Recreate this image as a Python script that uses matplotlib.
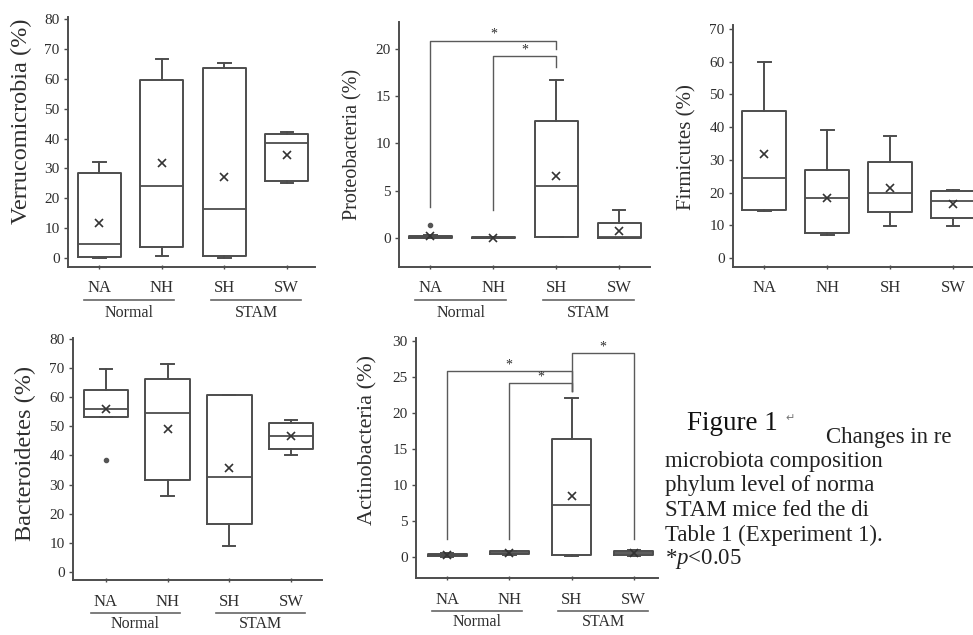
import matplotlib
matplotlib.use("Agg")
import matplotlib.pyplot as plt
from matplotlib.transforms import blended_transform_factory, ScaledTranslation

plt.rcParams['font.family'] = ['Liberation Serif', 'DejaVu Sans']
plt.rcParams['mathtext.fontset'] = 'custom'
plt.rcParams['mathtext.rm'] = 'Liberation Serif'
plt.rcParams['mathtext.it'] = 'Liberation Serif:italic'

# ---------------- data ----------------
categories = ['NA', 'NH', 'SH', 'SW']
group_names = ['Normal', 'STAM']

verr_lo = [0.0, 0.6, 0.0, 25.1]
verr_q1 = [0.4, 3.6, 0.6, 25.7]
verr_med = [4.7, 24.1, 16.3, 38.5]
verr_q3 = [28.5, 59.7, 63.7, 41.5]
verr_hi = [32.3, 66.8, 65.3, 42.1]
verr_mean = [11.7, 31.8, 27.0, 34.5]
verr_fliers = [[], [], [], []]

prot_lo = [0.0, 0.0, 0.1, 0.0]
prot_q1 = [0.05, 0.0, 0.15, 0.05]
prot_med = [0.12, 0.03, 5.5, 0.1]
prot_q3 = [0.22, 0.08, 12.4, 1.6]
prot_hi = [0.3, 0.1, 16.7, 3.0]
prot_mean = [0.25, 0.03, 6.5, 0.7]
prot_fliers = [[1.4], [], [], []]

firm_lo = [14.4, 7.0, 9.8, 9.8]
firm_q1 = [14.8, 7.5, 14.1, 12.1]
firm_med = [24.5, 18.2, 20.0, 17.4]
firm_q3 = [45.0, 27.0, 29.2, 20.4]
firm_hi = [59.8, 39.1, 37.3, 20.8]
firm_mean = [31.8, 18.2, 21.4, 16.4]
firm_fliers = [[], [], [], []]

bact_lo = [53.3, 26.0, 8.9, 40.3]
bact_q1 = [53.3, 31.7, 16.4, 42.2]
bact_med = [55.8, 54.4, 32.7, 46.6]
bact_q3 = [62.5, 66.1, 60.7, 51.0]
bact_hi = [69.6, 71.3, 60.7, 52.1]
bact_mean = [55.8, 48.9, 35.8, 46.6]
bact_fliers = [[38.6], [], [], []]

acti_lo = [0.0, 0.3, 0.1, 0.1]
acti_q1 = [0.05, 0.35, 0.2, 0.2]
acti_med = [0.2, 0.55, 7.2, 0.45]
acti_q3 = [0.4, 0.75, 16.3, 0.75]
acti_hi = [0.5, 0.8, 22.1, 0.9]
acti_mean = [0.3, 0.5, 8.5, 0.55]
acti_fliers = [[], [], [], []]

# significance brackets: (left group, right group, bar height, left leg end, right leg end)
prot_brackets = [(0, 2, 20.8, 3.3, 19.9), (1, 2, 19.2, 3.0, 18.0)]
acti_brackets = [(0, 2, 25.8, 2.5, 23.0), (1, 2, 24.1, 2.5, 23.0), (2, 3, 28.3, 23.0, 2.5)]

caption_title = 'Figure 1'
caption_lines = ['Changes in re', 'microbiota composition', 'phylum level of norma',
                 'STAM mice fed the di', 'Table 1 (Experiment 1).']
caption_p = r'*$\it{p}$<0.05'

# ---------------- figure ----------------
W, H = 973, 635
fig = plt.figure(figsize=(W / 100, H / 100), dpi=100)
LC = '#4d4d4d'
TC = '#2e2e2e'


def add_ax(left, right, top, bottom):
    return fig.add_axes([left / W, 1 - bottom / H, (right - left) / W, (bottom - top) / H])


def below(ax, px):
    return blended_transform_factory(ax.transData, ax.transAxes) + \
        ScaledTranslation(0, -px / 100, fig.dpi_scale_trans)


def panel(box, ylim, xlim, yticks, lo, q1, med, q3, hi, mean, fliers, width,
          ylabel, ylab_px, ylab_size, lab_off, groups=True):
    left, right, top, bottom = box
    ax = add_ax(left, right, top, bottom)
    pos = list(range(1, len(categories) + 1))
    stats = []
    for i in range(len(categories)):
        stats.append(dict(whislo=lo[i], q1=q1[i], med=med[i], q3=q3[i],
                          whishi=hi[i], mean=mean[i], fliers=fliers[i]))
    lp = dict(color=LC, lw=1.4)
    ax.bxp(stats, positions=pos, widths=width, capwidths=0.2, showmeans=True,
           showfliers=True, boxprops=lp, whiskerprops=lp, capprops=lp,
           medianprops=dict(color=LC, lw=1.3),
           meanprops=dict(marker='x', markeredgecolor='#333333', markersize=6, markeredgewidth=1.2),
           flierprops=dict(marker='o', markersize=3, markerfacecolor='#555555',
                           markeredgecolor='#555555'),
           manage_ticks=False)
    ax.set_xlim(*xlim)
    ax.set_ylim(*ylim)
    ax.set_yticks(yticks)
    ax.set_yticklabels([str(t) for t in yticks])
    ax.set_xticks(pos)
    ax.set_xticklabels([])
    for s in ['top', 'right']:
        ax.spines[s].set_visible(False)
    for s in ['left', 'bottom']:
        ax.spines[s].set_color(LC)
        ax.spines[s].set_linewidth(1.4)
    ax.tick_params(axis='y', direction='out', length=3, width=1, colors=LC,
                   labelcolor=TC, labelsize=11, pad=3)
    ax.tick_params(axis='x', direction='inout', length=3, width=1, colors=LC)
    ax.patch.set_visible(False)
    # category labels
    c_off, u_off, g_off = lab_off
    for p, c in zip(pos, categories):
        ax.text(p, 0, c, transform=below(ax, c_off), ha='center', va='center',
                fontsize=12, color=TC, clip_on=False)
    if groups:
        spans = [(0.76, 2.2), (2.79, 4.23)]
        for (a, b), g in zip(spans, group_names):
            ax.plot([a, b], [0, 0], transform=below(ax, u_off), color='#666666',
                    lw=1.2, clip_on=False)
            ax.text((a + b) / 2, 0, g, transform=below(ax, g_off), ha='center',
                    va='center', fontsize=11.5, color=TC, clip_on=False)
    # y label
    lx, ly = ylab_px
    fig.text(lx / W, 1 - ly / H, ylabel, rotation=90, ha='center', va='center',
             fontsize=ylab_size, color=TC)
    return ax


def brackets(ax, br):
    for a, b, y, la, lb in br:
        x1, x2 = a + 1, b + 1
        ax.plot([x1, x1, x2, x2], [la, y, y, lb], color='#5a5a5a', lw=1.0)
        ax.text((x1 + x2) / 2, y, '*', ha='center', va='bottom', fontsize=10, color=TC)


top_off = (21, 33, 46)
bot_off = (22, 33, 44)

panel((68, 315, 17, 267), (-3.0, 80.7), (0.5, 4.45), list(range(0, 81, 10)),
      verr_lo, verr_q1, verr_med, verr_q3, verr_hi, verr_mean, verr_fliers, 0.69,
      'Verrucomicrobia (%)', (21, 121), 17.5, top_off)

ax2 = panel((399, 650, 22, 267), (-3.06, 22.8), (0.5, 4.49), list(range(0, 21, 5)),
            prot_lo, prot_q1, prot_med, prot_q3, prot_hi, prot_mean, prot_fliers, 0.68,
            'Proteobacteria (%)', (353, 144), 14.5, top_off)
brackets(ax2, prot_brackets)

panel((733, 984.5, 25, 267), (-2.75, 71.2), (0.5, 4.5), list(range(0, 71, 10)),
      firm_lo, firm_q1, firm_med, firm_q3, firm_hi, firm_mean, firm_fliers, 0.7,
      'Firmicutes (%)', (687, 147), 15, top_off, groups=False)

panel((73, 322, 338, 580), (-2.75, 80.3), (0.47, 4.5), list(range(0, 81, 10)),
      bact_lo, bact_q1, bact_med, bact_q3, bact_hi, bact_mean, bact_fliers, 0.72,
      'Bacteroidetes (%)', (25, 453), 17.5, bot_off)

ax5 = panel((416, 658, 338, 578), (-2.96, 30.4), (0.5, 4.39), list(range(0, 31, 5)),
            acti_lo, acti_q1, acti_med, acti_q3, acti_hi, acti_mean, acti_fliers, 0.63,
            'Actinobacteria (%)', (368, 440), 16, bot_off)
brackets(ax5, acti_brackets)

# caption
fig.text(687 / W, 1 - 430 / H, caption_title, fontsize=19.5, color='#111111',
         ha='left', va='baseline')
fig.text(785 / W, 1 - 421 / H, '\u21b5', fontsize=8, color='#777777',
         ha='left', va='baseline', family=['DejaVu Sans'])
fig.text(826 / W, 1 - 443 / H, caption_lines[0], fontsize=16.5, color='#222222',
         ha='left', va='baseline')
for i, line in enumerate(caption_lines[1:]):
    fig.text(665 / W, 1 - (467 + 24.5 * i) / H, line, fontsize=16.5, color='#222222',
             ha='left', va='baseline')
fig.text(665 / W, 1 - 564 / H, caption_p, fontsize=16.5, color='#222222',
         ha='left', va='baseline')

fig.savefig('out.png', dpi=100)
